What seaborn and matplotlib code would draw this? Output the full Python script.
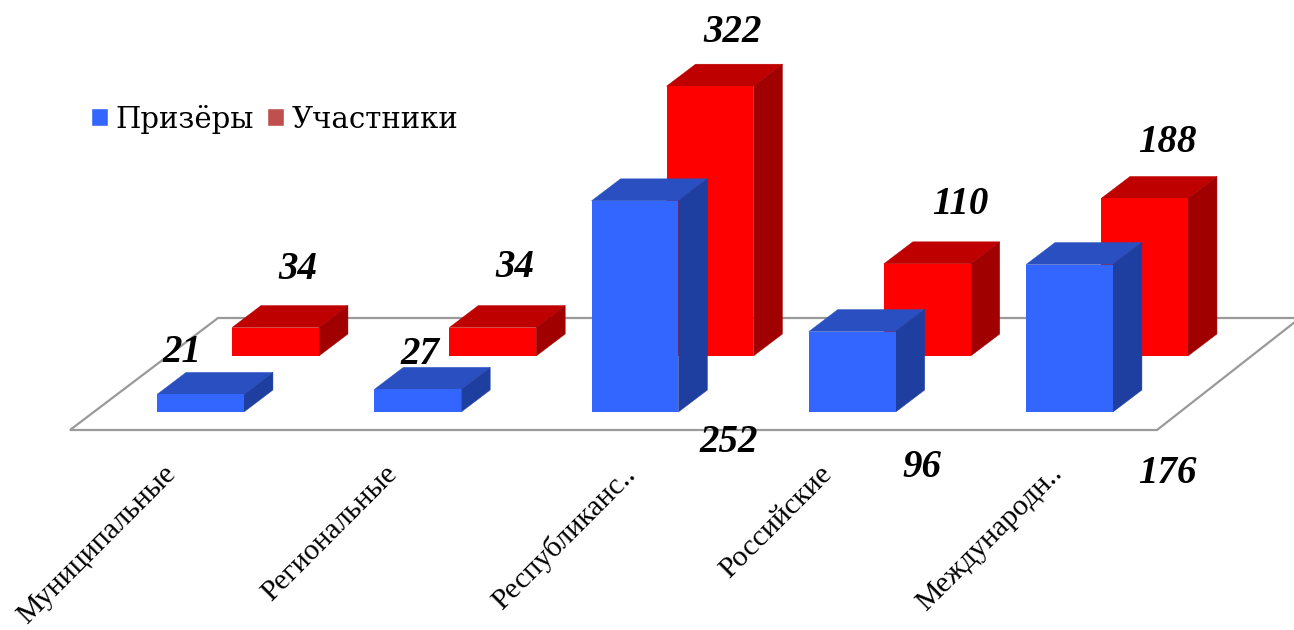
import matplotlib
matplotlib.use("Agg")
import matplotlib.pyplot as plt
import pandas as pd
import seaborn as sns
from matplotlib.patches import Patch, Polygon
from matplotlib.transforms import ScaledTranslation

categories = ["Муниципальные", "Региональные", "Республиканс..", "Российские", "Международн.."]
prizery = [21, 27, 252, 96, 176]
uchastniki = [34, 34, 322, 110, 188]
series_names = ["Призёры", "Участники"]

W, H = 1294, 630
PX_PER_UNIT = 0.838
BAND = 217.25
DEPTH_X, DEPTH_Y = 29, 22
label_offsets_blue = [(-19, 42), (2, 35), (94, -242), (70, -136), (98, -209)]
label_offsets_red = [(22, 58), (22, 60), (23, 54), (33, 59), (23, 56)]
tick_shifts = [-38, -34, -13, -33, -20]
DATA_FS = 28

sns.set_theme(style="white")
plt.rcParams["text.color"] = "black"
fig = plt.figure(figsize=(W / 100, H / 100), dpi=100, facecolor="white")


def make_axes(center0, base_y):
    left = center0 - BAND / 2
    return fig.add_axes([left / W, (H - base_y) / H, 5 * BAND / W, base_y / H], facecolor="none")


# floor
floor = fig.add_axes([0, 0, 1, 1], facecolor="none")
floor.set_xlim(0, W)
floor.set_ylim(H, 0)
floor.axis("off")
floor.add_patch(Polygon([(70, 430), (218, 318), (1300, 318), (1157, 430)], closed=True,
                        facecolor="white", edgecolor="#9a9a9a", linewidth=1.6, clip_on=True))


def draw_series(ax, values, name, front, top, side, base_y, offsets):
    df = pd.DataFrame({"cat": categories, "val": values})
    sns.barplot(data=df, x="cat", y="val", color=front, saturation=1, width=0.4, ax=ax, linewidth=0)
    ax.set_xlim(-0.5, 4.5)
    ax.set_ylim(0, base_y / PX_PER_UNIT)
    ax.set_xlabel("")
    ax.set_ylabel("")
    ax.set_yticks([])
    dx = DEPTH_X / BAND
    dy = DEPTH_Y / PX_PER_UNIT
    for bar, val, off in zip(list(ax.patches), values, offsets):
        x0, x1 = bar.get_x(), bar.get_x() + bar.get_width()
        h = bar.get_height()
        ax.add_patch(Polygon([(x0, h), (x1, h), (x1 + dx, h + dy), (x0 + dx, h + dy)],
                             facecolor=top, edgecolor=top, linewidth=0.3, clip_on=False, zorder=1))
        ax.add_patch(Polygon([(x1, 0), (x1 + dx, dy), (x1 + dx, h + dy), (x1, h)],
                             facecolor=side, edgecolor=side, linewidth=0.3, clip_on=False, zorder=1))
        bar.set_zorder(2)
        ax.annotate(str(val), xy=((x0 + x1) / 2, h), xytext=off, textcoords="offset pixels",
                    ha="center", va="center", fontsize=DATA_FS, fontstyle="italic",
                    fontweight="bold", family="Liberation Serif", color="black",
                    annotation_clip=False)
    for s in ax.spines.values():
        s.set_visible(False)


ax_back = make_axes(275.5, 356)
draw_series(ax_back, uchastniki, series_names[1], "#FF0000", "#BF0000", "#A00000", 356, label_offsets_red)
ax_back.set_xticks([])

ax_front = make_axes(200.5, 412)
draw_series(ax_front, prizery, series_names[0], "#3366FF", "#2A4FC0", "#1F3FA0", 412, label_offsets_blue)

ax_front.set_xticks(range(5))
ax_front.set_xticklabels(categories, rotation=45, ha="right", rotation_mode="anchor",
                         family="Liberation Serif", fontsize=21.5, color="black")
ax_front.tick_params(axis="x", length=0, pad=35)
for lab, s in zip(ax_front.get_xticklabels(), tick_shifts):
    lab.set_transform(lab.get_transform() + ScaledTranslation(s / 100, 0, fig.dpi_scale_trans))

handles = [Patch(facecolor="#3366FF", label=series_names[0]),
           Patch(facecolor="#C0504D", label=series_names[1])]
leg = fig.legend(handles=handles, loc="center left", bbox_to_anchor=(91 / W, 1 - 119 / H), ncol=2,
                 frameon=False, prop={"family": "DejaVu Serif", "size": 21},
                 handlelength=0.58, handleheight=0.58, handletextpad=0.24, columnspacing=0.48,
                 borderpad=0, borderaxespad=0)
for t in leg.get_texts():
    t.set_color("black")

fig.savefig("out.png", dpi=100)
